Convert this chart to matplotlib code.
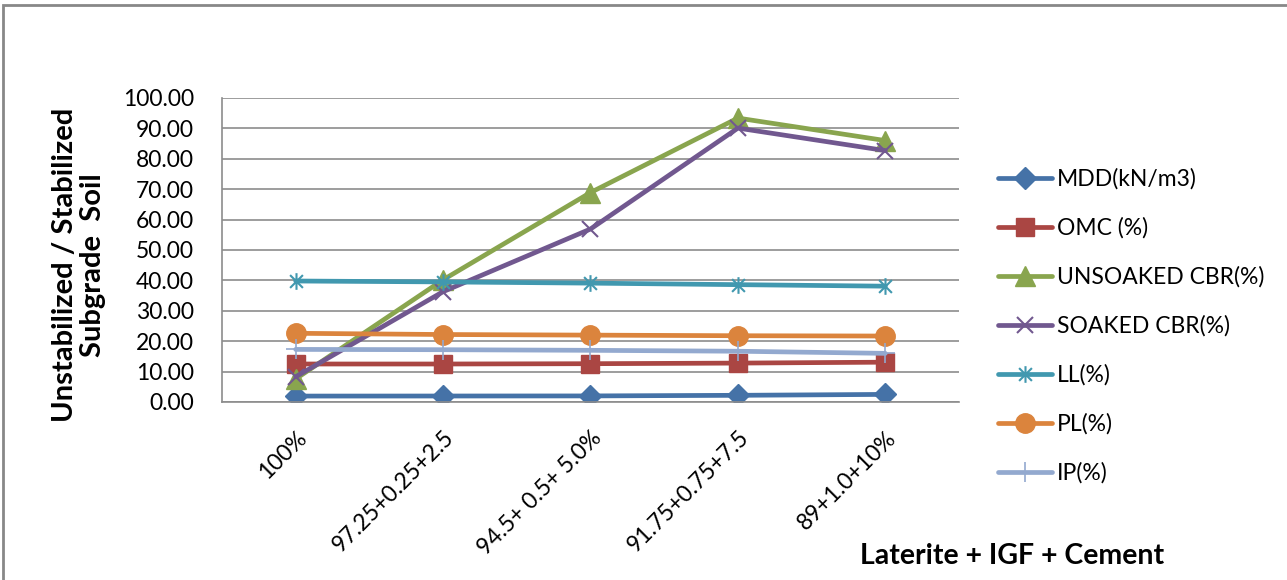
import numpy as np
import matplotlib
matplotlib.use('Agg')
import matplotlib.pyplot as plt
from matplotlib.path import Path
from matplotlib.patches import Rectangle

plt.rcParams['font.family'] = ['Lato', 'DejaVu Sans']

categories = ['100%', '97.25+0.25+2.5', '94.5+ 0.5+ 5.0%', '91.75+0.75+7.5', '89+1.0+10%']

mdd = [1.95, 1.97, 2.00, 2.20, 2.50]
omc = [12.5, 12.5, 12.6, 12.8, 13.1]
unsoaked_cbr = [7.6, 40.2, 68.9, 93.4, 86.0]
soaked_cbr = [8.3, 36.3, 56.9, 90.1, 82.7]
ll = [39.8, 39.5, 39.1, 38.6, 38.1]
pl = [22.6, 22.2, 22.0, 21.8, 21.7]
ip = [17.3, 17.2, 17.0, 16.7, 16.0]

# Excel-style "star" marker: an x with a vertical bar
star = Path([(-1, -1), (1, 1), (-1, 1), (1, -1), (0, -1.3), (0, 1.3)],
            [Path.MOVETO, Path.LINETO, Path.MOVETO, Path.LINETO, Path.MOVETO, Path.LINETO])

series = [
    ('MDD(kN/m3)', mdd, '#4572A7', 'D', 11, {}),
    ('OMC (%)', omc, '#AA4643', 's', 13, {}),
    ('UNSOAKED CBR(%)', unsoaked_cbr, '#89A54E', '^', 14, {}),
    ('SOAKED CBR(%)', soaked_cbr, '#71588F', 'x', 12, {'markeredgewidth': 1.5}),
    ('LL(%)', ll, '#4198AF', star, 12, {'markeredgewidth': 1.5, 'markerfacecolor': 'none'}),
    ('PL(%)', pl, '#DB843D', 'o', 14, {}),
    ('IP(%)', ip, '#93A9CF', '+', 14, {'markeredgewidth': 1.2}),
]

fig = plt.figure(figsize=(12.87, 5.80), dpi=100)
ax = fig.add_axes([222 / 1287, 1 - 402 / 580, (959 - 222) / 1287, (402 - 98) / 580])

x = np.arange(len(categories))
for name, vals, col, mk, ms, kw in series:
    ax.plot(x, vals, color=col, linewidth=3.4, marker=mk, markersize=ms,
            markeredgecolor=col, label=name, solid_capstyle='round', **kw)

ax.set_xlim(-0.5, len(categories) - 0.5)
ax.set_ylim(0, 100)
ax.set_yticks(np.arange(0, 101, 10))
ax.set_yticklabels([f'{v:.2f}' for v in np.arange(0, 101, 10)], fontsize=16.5)
ax.set_xticks(x)
ax.set_xticklabels(categories, rotation=45, ha='right', rotation_mode='anchor', fontsize=16.5)
ax.tick_params(axis='both', length=0)
ax.tick_params(axis='y', pad=20)
ax.tick_params(axis='x', pad=18)
ax.yaxis.grid(True, color='#8c8c8c', linewidth=1.2)
ax.set_axisbelow(True)
for side in ['top', 'right']:
    ax.spines[side].set_visible(False)
for side in ['left', 'bottom']:
    ax.spines[side].set_color('#8c8c8c')
    ax.spines[side].set_linewidth(1.2)

fig.text(79 / 1287, 1 - 265 / 580, 'Unstabilized / Stabilized\nSubgrade  Soil', fontsize=21,
         fontweight='bold', rotation=90, ha='center', va='center', linespacing=1.05,
         multialignment='center')
fig.text(1012 / 1287, 1 - 556 / 580, 'Laterite + IGF + Cement', fontsize=20.5,
         fontweight='bold', ha='center', va='center')

fig.legend(loc='center left', bbox_to_anchor=(998 / 1287, 1 - 326 / 580), frameon=False,
           fontsize=16.5, handlelength=2.36, labelspacing=1.2, handletextpad=0.22,
           borderpad=0, borderaxespad=0)

# outer chart frame
fig.patches.append(Rectangle((3 / 1287, -0.05), 1.1, 1 - 5 / 580 + 0.05, transform=fig.transFigure,
                             fill=False, edgecolor='#888888', linewidth=2))

fig.savefig('out.png', dpi=100)
